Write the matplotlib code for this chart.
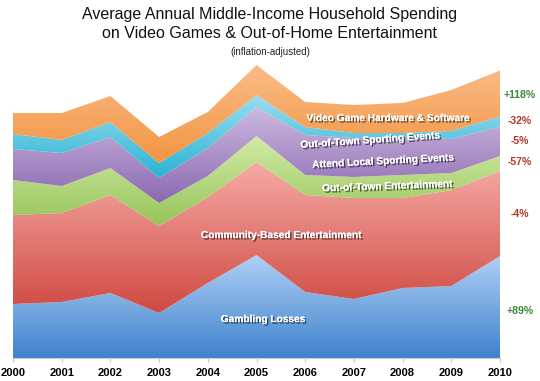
import matplotlib
matplotlib.use("Agg")
import matplotlib.pyplot as plt
import matplotlib.patheffects as pe
import numpy as np
from matplotlib.colors import LinearSegmentedColormap

plt.rcParams["font.family"] = ["Liberation Sans", "DejaVu Sans"]

# ---- Data (arbitrary spending units, stacked bottom -> top) ----
years = [2000, 2001, 2002, 2003, 2004, 2005, 2006, 2007, 2008, 2009, 2010]
gambling = [54, 56, 65, 45, 75, 103, 66, 59, 70, 72, 102]
community = [89, 89, 98, 87, 86, 93, 97, 101, 90, 96, 85]
town_ent = [35, 27, 27, 23, 21, 26, 20, 21, 23, 17, 15]
local_sport = [31, 33, 31, 25, 28, 29, 40, 39, 38, 34, 29.5]
town_sport = [15, 13, 15, 15, 15, 12, 8, 5, 4, 8, 10]
video_games = [21, 27, 26, 26, 21, 30, 25, 28, 30, 41, 46]

series = [gambling, community, town_ent, local_sport, town_sport, video_games]
names = ["Gambling Losses", "Community-Based Entertainment",
         "Out-of-Town Entertainment", "Attend Local Sporting Events",
         "Out-of-Town Sporting Events", "Video Game Hardware & Software"]
changes = ["+89%", "-4%", "-57%", "-5%", "-32%", "+118%"]

# gradient colours per band (top, bottom)
grads = [
    ("#b0d0f5", "#3f82cc"),
    ("#f6aaa5", "#cf4a42"),
    ("#d3eba5", "#95c45a"),
    ("#cdb9e0", "#8a68b0"),
    ("#9addf0", "#2bb3d2"),
    ("#f9bc88", "#f39440"),
]

fig = plt.figure(figsize=(5.4, 3.81), dpi=100)
ax = fig.add_axes([13 / 540, 23 / 381, 487 / 540, 318 / 381])

x = np.array(years, dtype=float)
base = np.zeros(len(years))
for vals, (c_top, c_bot) in zip(series, grads):
    top = base + np.array(vals, dtype=float)
    poly = ax.fill_between(x, base, top, color="none", lw=0)
    path = poly.get_paths()[0]
    cmap = LinearSegmentedColormap.from_list("g", [c_bot, c_top])
    lo, hi = base.min(), top.max()
    grad = np.linspace(0, 1, 256).reshape(-1, 1)
    im = ax.imshow(grad, extent=(x[0], x[-1], lo, hi), origin="lower",
                   aspect="auto", cmap=cmap, interpolation="bicubic", zorder=1)
    im.set_clip_path(path, transform=ax.transData)
    base = top

ax.set_xlim(2000, 2010)
ax.set_ylim(0, 318)
ax.set_xticks(years)
ax.set_xticklabels([str(y) for y in years], fontsize=8, fontweight="bold")
ax.set_yticks([])
for s in ["top", "right", "left"]:
    ax.spines[s].set_visible(False)
ax.spines["bottom"].set_color("#c8c8c8")
ax.tick_params(axis="x", direction="out", length=3, color="#c8c8c8", pad=4)

# band labels (white, drop shadow)
shadow = [pe.withSimplePatchShadow(offset=(1.2, -1.2), shadow_rgbFace="black", alpha=0.55),
          pe.Normal()]
label_pos = [  # pixel positions (x, y, rotation)
    (263, 319, 0), (281, 235, 0), (387, 186, 2),
    (383, 161, 3), (370, 140, 4), (388, 118, 0),
]
for name, (px, py, rot) in zip(names, label_pos):
    fig.text(px / 540, 1 - py / 381, name, ha="center", va="center",
             color="white", fontsize=7.3, fontweight="bold", rotation=rot,
             path_effects=shadow)

# change labels on right
change_y = [311, 214, 162, 141, 121, 95]
for txt, py in zip(changes, change_y):
    col = "#3a8a3a" if txt.startswith("+") else "#b2382c"
    fig.text(520 / 540, 1 - py / 381, txt, ha="center", va="center",
             color=col, fontsize=7.6, fontweight="bold")

fig.text(0.5, 1 - 14 / 381, "Average Annual Middle-Income Household Spending",
         ha="center", va="center", fontsize=11.5, color="#111")
fig.text(0.5, 1 - 34 / 381, "on Video Games & Out-of-Home Entertainment",
         ha="center", va="center", fontsize=11.5, color="#111")
fig.text(0.5, 1 - 52 / 381, "(inflation-adjusted)",
         ha="center", va="center", fontsize=7, color="#222")

fig.savefig("out.png", dpi=100, facecolor="white")
